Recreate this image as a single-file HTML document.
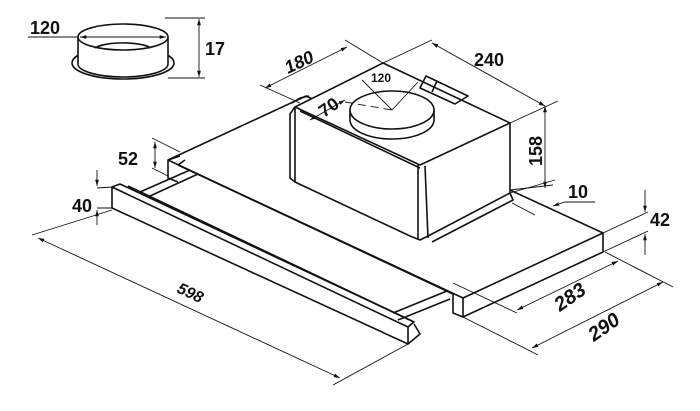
<!DOCTYPE html>
<html><head><meta charset="utf-8"><style>
html,body{margin:0;padding:0;background:#fff}
svg{display:block}
text{font-family:"Liberation Sans",sans-serif;font-weight:bold;fill:#111}
</style></head><body>
<svg width="700" height="411" viewBox="0 0 700 411" xmlns="http://www.w3.org/2000/svg">
<defs>
<marker id="a" viewBox="0 0 10 10" refX="10" refY="5" markerWidth="7" markerHeight="7" orient="auto-start-reverse"><path d="M0,2 L10,5 L0,8 z" fill="#111"/></marker>
</defs>
<g fill="none" stroke="#111" stroke-width="1.6" stroke-linejoin="round">
<!-- ring -->
<ellipse cx="123" cy="63" rx="51" ry="16" fill="#fff"/>
<path d="M78,37 L78,64 A45,13 0 0 0 168,64 L168,37" fill="#fff"/>
<ellipse cx="123" cy="37" rx="45" ry="13" fill="#fff"/>
<path d="M95,48 A30,8 0 0 1 151,48"/>
<!-- slab -->
<path d="M168,160 L306,96 L603,233 L603,252 L463,317 L463,298 L168,160 Z" fill="#fff"/>
<path d="M463,298 L603,233"/>
<path d="M168,160 L168,178 L178,182"/>
<path d="M168,160 L180,156"/>
<path d="M178,165 L453,294 L453,313 L463,317"/>
<path d="M185,160 L178,165"/>
<!-- drawer rails -->
<path d="M140,192 L190,170 M150,196 L198,174"/>
<path d="M393,313 L447,291 M398,320 L450,299"/>
<!-- drawer panel -->
<path d="M112,187 L408,327 L408,344 L112,208 Z" fill="#fff"/>
<path d="M112,187 L120,184 L414,322 L408,327"/>
<path d="M128,186 L412,321"/>
<path d="M408,344 L420,334 L414,324"/>
<!-- motor box -->
<path d="M295,107 L383,63 L510,123 L510,193 L430,235 L420,240 L410,236 L295,182 Z" fill="#fff"/>
<path d="M295,107 L420,165 L510,123"/>
<path d="M300,111 L420,168"/>
<path d="M418,165 L418,240"/>
<path d="M425,166 L428,238"/>
<path d="M510,193 L513,200 L432,242"/>
<path d="M295,107 L290,114 L290,178 L295,182"/>
<path d="M292,103 L300,98 L309,96"/>
<!-- fan -->
<path d="M350,110 L350,120 A42,19 0 0 0 434,120 L434,110" fill="#fff"/>
<ellipse cx="392" cy="110" rx="42" ry="19" fill="#fff"/>
<path d="M420,88 L426,76 L468,96 L455,104 Z"/>
<path d="M432,92 L437,81"/>
</g>
<!-- dimension lines -->
<g fill="none" stroke="#111" stroke-width="0.9">
<path d="M28,37 L78,37"/>
<path d="M80,37 L166,37" marker-start="url(#a)" marker-end="url(#a)"/>
<path d="M165,18 L205,18 M168,78 L205,78"/>
<path d="M199,19 L199,77" marker-start="url(#a)" marker-end="url(#a)"/>
<path d="M152,138 L180,152 M152,168 L168,176"/>
<path d="M155,142 L155,168" marker-start="url(#a)" marker-end="url(#a)"/>
<path d="M97,170 L97,186" marker-end="url(#a)"/>
<path d="M97,225 L97,210" marker-end="url(#a)"/>
<path d="M97,188 L112,187 M97,208 L112,208"/>
<path d="M32,235 L112,210 M333,385 L408,344"/>
<path d="M38,238 L340,378" marker-start="url(#a)" marker-end="url(#a)"/>
<path d="M260,85 L300,103 M345,40 L383,63"/>
<path d="M265,88 L347,47" marker-start="url(#a)" marker-end="url(#a)"/>
<path d="M383,63 L432,40 M510,123 L558,101"/>
<path d="M432,43 L545,106" marker-start="url(#a)" marker-end="url(#a)"/>
<path d="M510,193 L555,180"/>
<path d="M545,106 L545,188" marker-start="url(#a)" marker-end="url(#a)"/>
<path d="M510,190 L553,185 M512,203 L535,215"/>
<path d="M595,202 L565,202 L553,206" marker-end="url(#a)"/>
<path d="M603,233 L648,212 M603,252 L648,231"/>
<path d="M645,190 L645,212" marker-end="url(#a)"/>
<path d="M645,255 L645,234" marker-end="url(#a)"/>
<path d="M453,283 L517,313 M605,252 L673,287 M463,317 L538,355"/>
<path d="M517,310 L618,261" marker-start="url(#a)" marker-end="url(#a)"/>
<path d="M532,348 L663,282" marker-start="url(#a)" marker-end="url(#a)"/>
<path d="M310,120 L345,100" marker-start="url(#a)" marker-end="url(#a)"/>
<path d="M362,80 L392,110 L418,82"/>
<path d="M345,102 L392,110" stroke-dasharray="8,5"/>
</g>
<text x="30" y="34" font-size="18">120</text>
<text x="205" y="55" font-size="18">17</text>
<text x="118" y="165" font-size="18">52</text>
<text x="72" y="212" font-size="18">40</text>
<text x="0" y="0" font-size="16" font-style="italic" transform="translate(176,292) rotate(25)">598</text>
<text x="0" y="0" font-size="18" font-style="italic" transform="translate(288,74) rotate(-25)">180</text>
<text x="474" y="66" font-size="18">240</text>
<text x="0" y="0" font-size="18" transform="translate(542,166) rotate(-90)">158</text>
<text x="568" y="198" font-size="18">10</text>
<text x="650" y="226" font-size="18">42</text>
<text x="0" y="0" font-size="20" font-style="italic" transform="translate(560,312) rotate(-35)">283</text>
<text x="0" y="0" font-size="20" font-style="italic" transform="translate(594,342) rotate(-35)">290</text>
<text x="0" y="0" font-size="18" transform="translate(324,118) rotate(-35)">70</text>
<text x="371" y="82" font-size="12">120</text>
</svg>
</body></html>
